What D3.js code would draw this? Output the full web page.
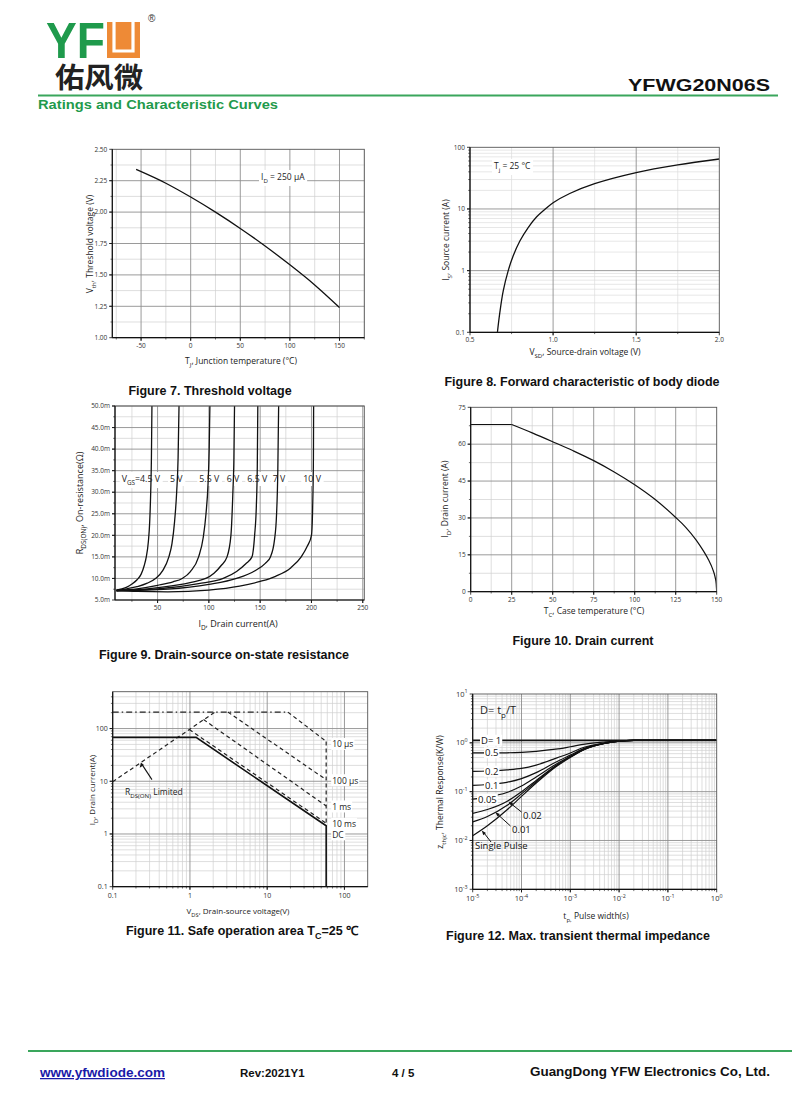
<!DOCTYPE html>
<html><head><meta charset="utf-8">
<script src="https://cdn.jsdelivr.net/npm/d3@7"></script>
<style>body{margin:0;background:#fff}svg{display:block}</style>
</head><body>
<script>
// ---------------- DATA ----------------
// Figure 7
const fig7Temp=[-55,-25,0,25,50,75,100,125,150];
const fig7Vth=[2.34,2.23,2.12,2.00,1.87,1.73,1.58,1.42,1.24];
const fig7XTicks=[-50,0,50,100,150];
const fig7YTicks=[1.00,1.25,1.50,1.75,2.00,2.25,2.50];
// Figure 8
const fig8Vsd=[0.665,0.68,0.70,0.73,0.76,0.80,0.85,0.90,0.95,1.00,1.10,1.25,1.50,1.75,2.00];
const fig8Is=[0.1,0.214,0.47,1.0,1.74,3.02,5.0,7.4,9.8,12.6,17.8,25.7,38.9,51.9,64.6];
const fig8XTicks=[0.5,1.0,1.5,2.0];
const fig8YTicks=[0.1,1,10,100];
// Figure 9 (R in mOhm)
const fig9Vgs=['4.5 V','5 V','5.5 V','6 V','6.5 V','7 V','10 V'];
const fig9Id=[
 [10,15,20,25,30,34,37,39,41,42.3,43.3,44,44.5],
 [10,20,30,40,48,55,61,64,66.5,68.6,70,70.9],
 [10,30,50,65,74,82,90,94.5,97.2,99.2,100.3,101],
 [10,40,70,90,97,105,112,117.7,121.5,123.4,124.4,125],
 [10,50,90,114,127,136,142,144.6,146.3,147.2,147.7],
 [10,60,100,127,145,155,160,164,166,167.2,168],
 [10,30,60,100,130,150,165,180,190,196,200,201.3,201.9,202.1]
];
const fig9Rds=[
 [7.3,7.6,8.0,8.7,9.7,11,13,15,18.5,23,30,38,50],
 [7.2,7.6,8.1,8.9,10,11.8,15,18,23,30,38,50],
 [7.2,7.6,8.4,9.2,10,11.6,15,19.5,25,32,40,50],
 [7.2,7.6,8.5,9.5,10,11.2,13,15,20,30,38,50],
 [7.2,7.6,8.8,10,11.6,13.4,15,20,27,36,50],
 [7.1,7.5,8.6,10,11.8,13.5,15,19,25,35,50],
 [7.2,7.0,6.9,7.3,8.2,9.3,10.5,12.5,15,17.5,20,28,38,50]
];
const fig9XTicks=[50,100,150,200,250];
const fig9YTicks=[5,10,15,20,25,30,35,40,45,50];
// Figure 10
const fig10Flat=[[0,68],[25,68]];
const fig10Tc=[25,37.5,50,62.5,75,87.5,100,112.5,125,131,137.5,142,145,147.5,149,149.7,150];
const fig10Id=[68,64.6,61,57.3,53.3,48.7,43.5,37.5,30.2,26.3,21,16.5,13,9.3,6,3.2,0];
const fig10XTicks=[0,25,50,75,100,125,150];
const fig10YTicks=[0,15,30,45,60,75];
// Figure 11 (points [V, A])
const soaRdsLimit=[[0.1,9.8],[2.1,205]];
const soaTopLimit=[[0.1,205],[18.5,205]];
const soa10us=[[18.5,205],[58,57]];
const soa100us=[[3.1,205],[58,10.7]];
const soa1ms=[[1.5,148],[58,3.4]];
const soa10ms=[[0.98,96],[58,1.6]];
const soaDC=[[0.1,68],[1.2,68],[58,1.43],[58,0.1]];
const soaVLimit=[[58,57],[58,1.43]];
const soaLabels=['10 μs','100 μs','1 ms','10 ms','DC'];
const fig11Ticks=[0.1,1,10,100];
// Figure 12
const fig12Tp=[1e-5,2e-5,5e-5,1e-4,2e-4,5e-4,1e-3,2e-3,5e-3,1e-2,2e-2,1];
const zthD1=[1.12,1.12,1.12,1.12,1.12,1.12,1.12,1.12,1.12,1.12,1.12,1.12];
const zthD05=[0.62,0.62,0.625,0.64,0.67,0.74,0.83,0.94,1.04,1.1,1.12,1.12];
const zthD02=[0.26,0.265,0.28,0.3,0.35,0.48,0.62,0.82,0.99,1.09,1.12,1.12];
const zthD01=[0.135,0.14,0.155,0.185,0.245,0.4,0.56,0.78,0.98,1.08,1.12,1.12];
const zthD005=[0.07,0.077,0.096,0.13,0.2,0.36,0.53,0.76,0.98,1.08,1.12,1.12];
const zthD002=[0.036,0.043,0.063,0.1,0.17,0.34,0.52,0.75,0.97,1.08,1.12,1.12];
const zthD001=[0.024,0.031,0.052,0.09,0.16,0.33,0.51,0.74,0.97,1.08,1.12,1.12];
const zthSingle=[0.0125,0.02,0.042,0.08,0.15,0.32,0.5,0.74,0.97,1.08,1.12,1.12];
const fig12XExp=[-5,-4,-3,-2,-1,0];
const fig12YExp=[-3,-2,-1,0,1];

// ---------------- DRAWING ----------------
const svg=d3.select('body').append('svg').attr('width',800).attr('height',1111);
svg.append('rect').attr('width',800).attr('height',1111).attr('fill','#fff');
const SANS='"Open Sans","Noto Sans",sans-serif';
const ARIAL='"Liberation Sans",Arial,sans-serif';
const GREEN='#1f9a4c';

function rich(t,parts,size){
  let cur=0;
  parts.forEach(([s,k])=>{
    const target=k==='sub'?size*0.35:(k==='sup'?-size*0.42:0);
    const ts=t.append('tspan').attr('dy',target-cur).text(s);
    if(k) ts.attr('font-size',size*0.72);
    cur=target;
  });
  return t;
}
function txt(g,x,y,parts,size,opts={}){
  const t=g.append('text').attr('x',x).attr('y',y).attr('font-size',size)
    .attr('font-family',opts.family||SANS).attr('fill',opts.fill||'#222')
    .attr('text-anchor',opts.anchor||'start');
  if(opts.weight) t.attr('font-weight',opts.weight);
  if(opts.rotate!==undefined) t.attr('transform',`rotate(${opts.rotate},${x},${y})`);
  if(typeof parts==='string') t.text(parts); else rich(t,parts,size);
  return t;
}
function bgBehind(layer,textSel,pad=1.5){
  const b=textSel.node().getBBox();
  layer.append('rect').attr('x',b.x-pad).attr('y',b.y-pad*0.5).attr('width',b.width+pad*2).attr('height',b.height+pad).attr('fill','#fff');
}
function logMinor(lo,hi){
  const out=[];
  for(let e=Math.floor(Math.log10(lo));e<=Math.ceil(Math.log10(hi));e++)
    for(let k=2;k<=9;k++){const v=k*Math.pow(10,e); if(v>lo*1.0001&&v<hi*0.9999) out.push(v);}
  return out;
}
let clipN=0;
function panel(o){
  const g=svg.append('g');
  const xs=o.xs, ys=o.ys;
  const [L,R]=xs.range(), [B,T]=ys.range();
  const id='clip'+(clipN++);
  g.append('clipPath').attr('id',id).append('rect').attr('x',L).attr('y',T).attr('width',R-L).attr('height',B-T);
  const grid=g.append('g');
  const minorC=o.minorColor||'#d0d0d0', majorC='#8f8f8f';
  grid.selectAll(null).data(o.xMinor).join('line').attr('x1',xs).attr('x2',xs).attr('y1',T).attr('y2',B).attr('stroke',minorC).attr('stroke-width',0.7);
  grid.selectAll(null).data(o.yMinor).join('line').attr('y1',ys).attr('y2',ys).attr('x1',L).attr('x2',R).attr('stroke',minorC).attr('stroke-width',0.7);
  grid.selectAll(null).data(o.xMajor).join('line').attr('x1',xs).attr('x2',xs).attr('y1',T).attr('y2',B).attr('stroke',majorC).attr('stroke-width',0.9);
  grid.selectAll(null).data(o.yMajor).join('line').attr('y1',ys).attr('y2',ys).attr('x1',L).attr('x2',R).attr('stroke',majorC).attr('stroke-width',0.9);
  const under=g.append('g');
  const plot=g.append('g').attr('clip-path',`url(#${id})`);
  const frame=g.append('g');
  frame.append('rect').attr('x',L).attr('y',T).attr('width',R-L).attr('height',B-T).attr('fill','none').attr('stroke','#555').attr('stroke-width',0.9);
  frame.append('line').attr('x1',L).attr('x2',L).attr('y1',T).attr('y2',B).attr('stroke','#111').attr('stroke-width',1.2);
  frame.append('line').attr('x1',L).attr('x2',R).attr('y1',B).attr('y2',B).attr('stroke','#111').attr('stroke-width',1.2);
  frame.selectAll(null).data(o.xMajor.concat(o.xTickVals)).join('line').attr('x1',xs).attr('x2',xs).attr('y1',B).attr('y2',B+3).attr('stroke','#111').attr('stroke-width',0.8);
  frame.selectAll(null).data(o.xMinor).join('line').attr('x1',xs).attr('x2',xs).attr('y1',B).attr('y2',B+1.8).attr('stroke','#111').attr('stroke-width',0.6);
  frame.selectAll(null).data(o.yMajor.concat(o.yTickVals)).join('line').attr('y1',ys).attr('y2',ys).attr('x1',L-3).attr('x2',L).attr('stroke','#111').attr('stroke-width',0.8);
  frame.selectAll(null).data(o.yMinor).join('line').attr('y1',ys).attr('y2',ys).attr('x1',L-1.8).attr('x2',L).attr('stroke','#111').attr('stroke-width',0.6);
  o.xTickVals.forEach((v,i)=>txt(frame,xs(v),B+o.xLabDy,o.xLabels[i],o.tickFont,{anchor:'middle',fill:'#333'}));
  o.yTickVals.forEach((v,i)=>txt(frame,L-5,ys(v)+o.tickFont*0.35,o.yLabels[i],o.tickFont,{anchor:'end',fill:'#333'}));
  txt(frame,o.xTitleX,o.xTitleY,o.xTitle,o.titleFont,{anchor:'middle',fill:'#222'});
  txt(frame,o.yTitleX,o.yTitleY,o.yTitle,o.titleFont,{anchor:'middle',fill:'#222',rotate:-90});
  const over=g.append('g');
  return {g,plot,under,over,xs,ys,L,R,T,B};
}
function caption(x,y,parts){
  txt(svg,x,y,parts,12.5,{anchor:'middle',family:ARIAL,weight:'bold',fill:'#111'});
}
const lineXY=(xs,ys,curve)=>d3.line().x(d=>xs(d[0])).y(d=>ys(d[1])).curve(curve||d3.curveLinear);

// ---------- Header ----------
svg.append('text').attr('x',46).attr('y',58).attr('font-family',ARIAL).attr('font-weight','bold').attr('font-size',50)
  .attr('fill',GREEN).attr('textLength',59).attr('lengthAdjust','spacingAndGlyphs').text('YF');
svg.append('rect').attr('x',107).attr('y',22).attr('width',33).attr('height',36).attr('fill','#ee8a36');
svg.append('path').attr('d','M114,22 V51 H133 V22').attr('fill','none').attr('stroke','#fff').attr('stroke-width',3.2);
svg.append('text').attr('x',148).attr('y',22).attr('font-family',ARIAL).attr('font-size',10).attr('fill','#333').text('®');
svg.append('text').attr('x',55).attr('y',88).attr('font-family','"Noto Sans CJK SC"').attr('font-weight','bold').attr('font-size',28)
  .attr('fill','#222').attr('textLength',88).attr('lengthAdjust','spacingAndGlyphs').text('佑风微');
svg.append('text').attr('x',770).attr('y',91).attr('text-anchor','end').attr('font-family',ARIAL).attr('font-weight','bold').attr('font-size',17)
  .attr('fill','#111').attr('textLength',142).attr('lengthAdjust','spacingAndGlyphs').text('YFWG20N06S');
svg.append('line').attr('x1',38).attr('x2',778).attr('y1',95.5).attr('y2',95.5).attr('stroke','#3aa65c').attr('stroke-width',2);
svg.append('text').attr('x',38).attr('y',109).attr('font-family',ARIAL).attr('font-weight','bold').attr('font-size',13.5)
  .attr('fill',GREEN).attr('textLength',240).attr('lengthAdjust','spacingAndGlyphs').text('Ratings and Characteristic Curves');

// ---------- Figure 7 ----------
{
  const xs=d3.scaleLinear().domain([-79,175]).range([112.3,364.3]);
  const ys=d3.scaleLinear().domain([1,2.5]).range([337.7,149.3]);
  const p=panel({xs,ys,
    xMajor:[-50,0,50,100,150], xMinor:[-75,-25,25,75,125,175],
    yMajor:[1.25,1.5,1.75,2.0,2.25], yMinor:[1.125,1.375,1.625,1.875,2.125,2.375],
    xTickVals:fig7XTicks, xLabels:fig7XTicks.map(String),
    yTickVals:fig7YTicks, yLabels:fig7YTicks.map(d=>d.toFixed(2)),
    tickFont:6.5, xLabDy:10, titleFont:8.5,
    xTitle:[['T',''],['J','sub'],[', Junction temperature (°C)','']], xTitleX:241, xTitleY:364,
    yTitle:[['V',''],['th','sub'],[', Threshold voltage (V)','']], yTitleX:93, yTitleY:244});
  const lab=txt(p.over,261,180,[['I',''],['D','sub'],['  = 250 μA','']],8.5);
  bgBehind(p.under,lab,2);
  p.plot.append('path').attr('d',lineXY(xs,ys,d3.curveMonotoneX)(fig7Temp.map((t,i)=>[t,fig7Vth[i]])))
    .attr('fill','none').attr('stroke','#111').attr('stroke-width',1.3);
  caption(210,395,'Figure 7. Threshold voltage');
}
// ---------- Figure 8 ----------
{
  const xs=d3.scaleLinear().domain([0.5,2.0]).range([470,719.3]);
  const ys=d3.scaleLog().domain([0.1,100]).range([332.3,147.3]);
  const p=panel({xs,ys,
    xMajor:[1.0,1.5], xMinor:[0.75,1.25,1.75],
    yMajor:[1,10], yMinor:logMinor(0.1,100),
    xTickVals:fig8XTicks, xLabels:fig8XTicks.map(d=>d.toFixed(1)),
    yTickVals:fig8YTicks, yLabels:fig8YTicks.map(String),
    tickFont:6.5, xLabDy:10, titleFont:8.5, minorColor:'#dcdcdc',
    xTitle:[['V',''],['SD','sub'],[', Source-drain voltage (V)','']], xTitleX:585, xTitleY:355,
    yTitle:[['I',''],['S','sub'],[', Source current (A)','']], yTitleX:449, yTitleY:240});
  const lab=txt(p.over,494,169,[['T',''],['j','sub'],[' = 25 °C','']],8.5);
  bgBehind(p.under,lab,2);
  p.plot.append('path').attr('d',lineXY(xs,ys,d3.curveCatmullRom.alpha(0.5))(fig8Vsd.map((v,i)=>[v,fig8Is[i]])))
    .attr('fill','none').attr('stroke','#111').attr('stroke-width',1.3);
  caption(582,386,'Figure 8. Forward characteristic of body diode');
}
// ---------- Figure 9 ----------
{
  const xs=d3.scaleLinear().domain([8.5,251.5]).range([115,364.3]);
  const ys=d3.scaleLinear().domain([5,50]).range([600,406]);
  const p=panel({xs,ys,
    xMajor:[50,100,150,200,250], xMinor:[25,75,125,175,225],
    yMajor:[10,15,20,25,30,35,40,45,50], yMinor:[7.5,12.5,17.5,22.5,27.5,32.5,37.5,42.5,47.5],
    xTickVals:fig9XTicks, xLabels:fig9XTicks.map(String),
    yTickVals:fig9YTicks, yLabels:fig9YTicks.map(d=>d.toFixed(1)+'m'),
    tickFont:6.5, xLabDy:10, titleFont:9,
    xTitle:[['I',''],['D','sub'],[', Drain current(A)','']], xTitleX:238, xTitleY:627,
    yTitle:[['R',''],['DS(ON)','sub'],[', On-resistance(Ω)','']], yTitleX:83, yTitleY:503});
  const labX=[121.7,170,199.3,226.7,247.3,272.7,303.3];
  fig9Vgs.forEach((v,i)=>{
    const parts=i===0?[['V',''],['GS','sub'],['=4.5 V','']]:[[v,'']];
    const t=txt(p.over,labX[i],482,parts,8.8);
    bgBehind(p.under,t,2);
  });
  fig9Id.forEach((arr,i)=>{
    p.plot.append('path').attr('d',lineXY(xs,ys,d3.curveMonotoneX)(arr.map((x,j)=>[x,fig9Rds[i][j]])))
      .attr('fill','none').attr('stroke','#111').attr('stroke-width',1.3);
  });
  caption(224,659,'Figure 9. Drain-source on-state resistance');
}
// ---------- Figure 10 ----------
{
  const xs=d3.scaleLinear().domain([0,150]).range([470.7,716.7]);
  const ys=d3.scaleLinear().domain([0,75]).range([591.7,407.3]);
  const p=panel({xs,ys,
    xMajor:[25,50,75,100,125], xMinor:[12.5,37.5,62.5,87.5,112.5,137.5],
    yMajor:[15,30,45,60], yMinor:[7.5,22.5,37.5,52.5,67.5],
    xTickVals:fig10XTicks, xLabels:fig10XTicks.map(String),
    yTickVals:fig10YTicks, yLabels:fig10YTicks.map(String),
    tickFont:6.5, xLabDy:10, titleFont:8.5,
    xTitle:[['T',''],['C','sub'],[', Case temperature (°C)','']], xTitleX:594, xTitleY:614,
    yTitle:[['I',''],['D','sub'],[', Drain current (A)','']], yTitleX:448, yTitleY:499});
  p.plot.append('path').attr('d',lineXY(xs,ys)(fig10Flat))
    .attr('fill','none').attr('stroke','#111').attr('stroke-width',1.2);
  p.plot.append('path').attr('d',lineXY(xs,ys,d3.curveMonotoneX)(fig10Tc.map((t,i)=>[t,fig10Id[i]])))
    .attr('fill','none').attr('stroke','#111').attr('stroke-width',1.2);
  caption(583,645,'Figure 10. Drain current');
}
// ---------- Figure 11 ----------
{
  const xs=d3.scaleLog().domain([0.1,200]).range([112.7,367.7]);
  const ys=d3.scaleLog().domain([0.1,500]).range([886.7,691.7]);
  const p=panel({xs,ys,
    xMajor:[1,10,100], xMinor:logMinor(0.1,200),
    yMajor:[1,10,100], yMinor:logMinor(0.1,500),
    xTickVals:fig11Ticks, xLabels:fig11Ticks.map(String),
    yTickVals:fig11Ticks, yLabels:fig11Ticks.map(String),
    tickFont:7, xLabDy:11, titleFont:8,
    xTitle:[['V',''],['DS','sub'],[', Drain-source voltage(V)','']], xTitleX:238, xTitleY:914,
    yTitle:[['I',''],['D','sub'],[', Drain current(A)','']], yTitleX:95, yTitleY:790});
  const ln=lineXY(xs,ys);
  const dashed=[soaRdsLimit,soa10us,soa100us,soa1ms,soa10ms,soaVLimit];
  dashed.forEach(d=>p.plot.append('path').attr('d',ln(d)).attr('fill','none').attr('stroke','#222').attr('stroke-width',1.2).attr('stroke-dasharray','4,3'));
  p.plot.append('path').attr('d',ln(soaTopLimit)).attr('fill','none').attr('stroke','#222').attr('stroke-width',1.1).attr('stroke-dasharray','6,3,1.5,3');
  p.plot.append('path').attr('d',ln(soaDC)).attr('fill','none').attr('stroke','#111').attr('stroke-width',1.6);
  // label baselines relative to line end points
  const ends=[soa10us[1],soa100us[1],soa1ms[1],soa10ms[1],soaDC[2]];
  const dys=[6,4,4,4,12];
  soaLabels.forEach((s,i)=>{
    const y=ys(ends[i][1])+dys[i];
    const t=txt(p.over,xs(ends[i][0])+6,y,s,8.5,{fill:'#222'});
    bgBehind(p.under,t,1);
  });
  txt(p.over,125,795,[['R',''],['DS(ON)','sub'],[' Limited','']],8.5);
  const tip=[xs(0.232),ys(22.6)];
  p.over.append('line').attr('x1',tip[0]+11).attr('y1',tip[1]+17).attr('x2',tip[0]+1.5).attr('y2',tip[1]+2.5).attr('stroke','#111').attr('stroke-width',1.1);
  p.over.append('path').attr('d',`M${tip[0]},${tip[1]} l-1.2,5.2 l4.2,-2.7 z`).attr('fill','#111');
  caption(242,935,[['Figure 11. Safe operation area T',''],['C','sub'],['=25  ℃','']]);
}
// ---------- Figure 12 ----------
{
  const xs=d3.scaleLog().domain([1e-5,1]).range([472.7,716.7]);
  const ys=d3.scaleLog().domain([1e-3,10]).range([889.3,694]);
  const sup=e=>[['10',''],[String(e),'sup']];
  const p=panel({xs,ys,
    xMajor:[1e-4,1e-3,1e-2,1e-1], xMinor:logMinor(1e-5,1),
    yMajor:[1e-2,1e-1,1], yMinor:logMinor(1e-3,10),
    xTickVals:fig12XExp.map(e=>Math.pow(10,e)), xLabels:fig12XExp.map(sup),
    yTickVals:fig12YExp.map(e=>Math.pow(10,e)), yLabels:fig12YExp.map(sup),
    tickFont:7.5, xLabDy:12, titleFont:8.5,
    xTitle:[['t',''],['p,','sub'],[' Pulse width(s)','']], xTitleX:596, xTitleY:919,
    yTitle:[['z',''],['thjc','sub'],[', Thermal Response(K/W)','']], yTitleX:443, yTitleY:792});
  const curves=[zthD1,zthD05,zthD02,zthD01,zthD005,zthD002,zthD001,zthSingle];
  const ln=lineXY(xs,ys,d3.curveMonotoneX);
  curves.forEach((c,i)=>p.plot.append('path').attr('d',ln(fig12Tp.map((t,j)=>[t,c[j]])))
    .attr('fill','none').attr('stroke','#111').attr('stroke-width',i===0?1.8:1.2));
  txt(p.over,480,714,[['D= t',''],['p','sub'],['/T','']],11);
  const onCurve=[['D= 1',481,zthD1],['0.5',485,zthD05],['0.2',485,zthD02],['0.1',485,zthD01],['0.05',478,zthD005]];
  const lay=p.g.append('g');
  onCurve.forEach(([s,x,c])=>{
    const t=lay.append('g');
    const tt=txt(t,x,ys(c[0])+3.3,s,9.5,{fill:'#111'});
    const b=tt.node().getBBox();
    t.insert('rect','text').attr('x',b.x-1).attr('y',b.y+1).attr('width',b.width+2).attr('height',b.height-2).attr('fill','#fff');
  });
  const leaders=[['0.02',5.4e-5,0.063,523,819],['0.01',2.9e-5,0.038,512,833],['Single Pulse',1.53e-5,0.016,475,849]];
  leaders.forEach(([s,tx,ty,lx,ly])=>{
    const X=xs(tx),Y=ys(ty);
    const ex=lx-(s==='Single Pulse'?-16:1.5), ey=ly-7;
    lay.append('line').attr('x1',X+1.5).attr('y1',Y+1.4).attr('x2',ex).attr('y2',ey).attr('stroke','#111').attr('stroke-width',1);
    const ang=Math.atan2(ey-Y,ex-X);
    const a1=ang+0.35,a2=ang-0.35;
    lay.append('path').attr('d',`M${X},${Y} L${X+5*Math.cos(a1)},${Y+5*Math.sin(a1)} L${X+5*Math.cos(a2)},${Y+5*Math.sin(a2)} Z`).attr('fill','#111');
    txt(lay,lx,ly,s,9.5,{fill:'#111'});
  });
  caption(578,940,'Figure 12. Max. transient thermal impedance');
}

// ---------- Footer ----------
svg.append('line').attr('x1',28).attr('x2',792).attr('y1',1051).attr('y2',1051).attr('stroke','#3aa65c').attr('stroke-width',2.2);
svg.append('text').attr('x',40).attr('y',1077).attr('font-family',ARIAL).attr('font-weight','bold').attr('font-size',12.5)
  .attr('fill','#1a1aa8').attr('text-decoration','underline').attr('textLength',125).attr('lengthAdjust','spacingAndGlyphs').text('www.yfwdiode.com');
svg.append('text').attr('x',240).attr('y',1077).attr('font-family',ARIAL).attr('font-weight','bold').attr('font-size',11.5)
  .attr('fill','#111').text('Rev:2021Y1');
svg.append('text').attr('x',392).attr('y',1077).attr('font-family',ARIAL).attr('font-weight','bold').attr('font-size',11.5)
  .attr('fill','#111').text('4 / 5');
svg.append('text').attr('x',530).attr('y',1076).attr('font-family',ARIAL).attr('font-weight','bold').attr('font-size',13)
  .attr('fill','#111').attr('textLength',240).attr('lengthAdjust','spacingAndGlyphs').text('GuangDong YFW Electronics Co, Ltd.');
</script>
</body></html>
